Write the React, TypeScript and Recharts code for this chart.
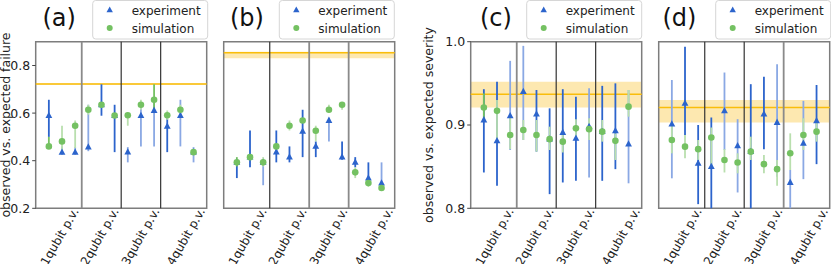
import React from 'react';
import {
    ScatterChart,
    Scatter,
    XAxis,
    YAxis,
    ErrorBar,
    ReferenceLine,
    ReferenceArea
} from 'recharts';

// x index of each of the 12 configurations, 3 per group
const POSITIONS = [0, 1, 2, 3, 4, 5, 6, 7, 8, 9, 10, 11];
const GROUPS = ['1qubit p.v.', '2qubit p.v.', '3qubit p.v.', '4qubit p.v.'];
const GROUP_TICKS = [2.3, 5.35, 8.45, 11.9];
const SEPARATORS = [2.5, 5.5, 8.5];

// (a) failure
const EXP_A = [0.589, 0.435, 0.435, 0.457, 0.635, 0.589, 0.436, 0.589, 0.611, 0.544, 0.589, 0.436];
const EXP_A_LO = [0.50, 0.425, 0.425, 0.44, 0.589, 0.436, 0.393, 0.46, 0.46, 0.436, 0.46, 0.393];
const EXP_A_HI = [0.656, 0.46, 0.457, 0.635, 0.721, 0.635, 0.457, 0.635, 0.656, 0.593, 0.656, 0.457];
const EXP_A_FAINT = [0, 1, 1, 1, 0, 0, 1, 1, 1, 0, 1, 1];
const SIM_A = [0.46, 0.481, 0.547, 0.614, 0.635, 0.59, 0.591, 0.635, 0.656, 0.591, 0.614, 0.436];
const SIM_A_LO = [0.455, 0.432, 0.453, 0.593, 0.625, 0.58, 0.547, 0.614, 0.607, 0.572, 0.59, 0.425];
const SIM_A_HI = [0.50, 0.547, 0.569, 0.635, 0.645, 0.60, 0.597, 0.656, 0.721, 0.611, 0.635, 0.447];
const SIM_A_FAINT = [0, 1, 1, 1, 1, 1, 1, 1, 0, 1, 1, 1];

// (b) failure
const EXP_B = [0.393, 0.415, 0.393, 0.436, 0.415, 0.523, 0.46, 0.569, 0.415, 0.393, 0.327, 0.306];
const EXP_B_LO = [0.327, 0.372, 0.297, 0.393, 0.393, 0.415, 0.415, 0.481, 0.404, 0.372, 0.32, 0.297];
const EXP_B_HI = [0.40, 0.527, 0.40, 0.527, 0.46, 0.614, 0.481, 0.58, 0.481, 0.415, 0.393, 0.393];
const EXP_B_FAINT = [0, 0, 1, 0, 0, 0, 0, 1, 0, 0, 0, 1];
const SIM_B = [0.393, 0.415, 0.393, 0.46, 0.547, 0.569, 0.526, 0.614, 0.635, 0.351, 0.306, 0.285];
const SIM_B_LO = [0.376, 0.405, 0.376, 0.446, 0.527, 0.559, 0.481, 0.6, 0.614, 0.327, 0.29, 0.28];
const SIM_B_HI = [0.415, 0.425, 0.415, 0.471, 0.569, 0.579, 0.547, 0.635, 0.645, 0.372, 0.32, 0.29];
const SIM_B_FAINT = [0, 1, 1, 1, 1, 1, 1, 1, 1, 1, 1, 1];

// (c) severity
const EXP_C = [0.906, 0.881, 0.911, 0.94, 0.913, 0.883, 0.891, 0.884, 0.898, 0.892, 0.893, 0.877];
const EXP_C_LO = [0.843, 0.827, 0.87, 0.882, 0.868, 0.817, 0.831, 0.833, 0.837, 0.833, 0.847, 0.83];
const EXP_C_HI = [0.943, 0.952, 0.977, 0.995, 0.942, 0.92, 0.943, 0.934, 0.944, 0.947, 0.95, 0.942];
const EXP_C_FAINT = [0, 0, 1, 1, 0, 0, 0, 0, 1, 0, 0, 1];
const SIM_C = [0.921, 0.917, 0.888, 0.894, 0.888, 0.883, 0.88, 0.896, 0.895, 0.892, 0.881, 0.922];
const SIM_C_LO = [0.906, 0.882, 0.871, 0.882, 0.868, 0.87, 0.867, 0.882, 0.882, 0.88, 0.858, 0.91];
const SIM_C_HI = [0.938, 0.93, 0.91, 0.906, 0.906, 0.898, 0.892, 0.907, 0.908, 0.906, 0.89, 0.942];
const SIM_C_FAINT = [0, 1, 1, 1, 1, 1, 1, 1, 1, 1, 1, 1];

// (d) severity
const EXP_D = [0.901, 0.926, 0.854, 0.85, 0.917, 0.875, 0.868, 0.913, 0.903, 0.831, 0.878, 0.905];
const EXP_D_LO = [0.836, 0.888, 0.805, 0.8, 0.87, 0.819, 0.8, 0.871, 0.838, 0.8, 0.835, 0.853];
const EXP_D_HI = [0.954, 0.994, 0.9, 0.909, 0.963, 0.907, 0.949, 0.958, 0.973, 0.846, 0.929, 0.948];
const EXP_D_FAINT = [1, 0, 0, 0, 1, 1, 0, 0, 1, 1, 1, 0];
const SIM_D = [0.882, 0.874, 0.871, 0.885, 0.858, 0.855, 0.868, 0.853, 0.847, 0.866, 0.888, 0.892];
const SIM_D_LO = [0.866, 0.86, 0.858, 0.85, 0.843, 0.842, 0.858, 0.842, 0.827, 0.846, 0.87, 0.88];
const SIM_D_HI = [0.9, 0.888, 0.882, 0.897, 0.871, 0.866, 0.886, 0.864, 0.858, 0.89, 0.908, 0.906];
const SIM_D_FAINT = [1, 1, 1, 1, 1, 1, 1, 1, 1, 1, 1, 1];

// expected value (line) and its band
const EXPECTED = [0.722, 0.854, 0.937, 0.921];
const EXPECTED_LO = [0.719, 0.83, 0.921, 0.903];
const EXPECTED_HI = [0.725, 0.858, 0.952, 0.930];

const BLUE = '#2c64cc';
const BLUE_FAINT = '#8aa8e4';
const GREEN = '#74c162';
const GREEN_FAINT = '#b9dfae';
const GOLD = '#f9bd0b';
const GOLD_BAND = '#fde8b0';
const FONT = '"DejaVu Sans", sans-serif';

const rows = (vals: number[], lo: number[], hi: number[], faint: number[], wantFaint: boolean) =>
    POSITIONS.map((x, i) => ({
        x,
        y: vals[i],
        err: [Math.max(0, vals[i] - lo[i]), Math.max(0, hi[i] - vals[i])],
        faint: !!faint[i]
    })).filter(r => r.faint === wantFaint);

const Triangle = (p: any) => {
    if (p.cx == null || p.cy == null) return null;
    const { cx, cy } = p;
    return <polygon points={`${cx},${cy - 3.9} ${cx - 3.4},${cy + 2.4} ${cx + 3.4},${cy + 2.4}`} fill={BLUE} />;
};

const Dot = (p: any) => {
    if (p.cx == null || p.cy == null) return null;
    return <circle cx={p.cx} cy={p.cy} r={3.3} fill={GREEN} />;
};

// tickSize 6 + tickMargin 2 below the axis; pull the label end back up near the frame
const GroupTick = (props: any) => {
    const { x, payload } = props;
    const y = props.y - 5.3;
    const idx = GROUP_TICKS.indexOf(payload.value);
    return (
        <text x={x} y={y} transform={`rotate(-60, ${x}, ${y})`} textAnchor="end"
            fontSize={12} fill="#222" fontFamily={FONT}>
            {GROUPS[idx]}
        </text>
    );
};

interface PanelProps {
    exp: number[]; expLo: number[]; expHi: number[]; expFaint: number[];
    sim: number[]; simLo: number[]; simHi: number[]; simFaint: number[];
    line: number; bandLo: number; bandHi: number;
    domain: [number, number];
    yTicks?: number[];
    left: number; right: number; axisWidth: number;
    sepColors: string[];
}

const W = 831;
const H = 264;
const TOP = 41.7;
const BOTTOM = 208.3;

const Panel: React.FC<PanelProps> = (p) => {
    const showY = !!p.yTicks;
    return (
        <div style={{ position: 'absolute', left: 0, top: 0 }}>
            <ScatterChart
                width={W}
                height={H}
                margin={{ top: TOP, bottom: 0, left: p.left - (showY ? p.axisWidth : 0), right: W - p.right }}
            >
                <XAxis type="number" dataKey="x" domain={[-1, 12]} ticks={GROUP_TICKS}
                    allowDataOverflow axisLine={false} tickLine={false} tickSize={6} tickMargin={2}
                    height={H - BOTTOM} interval={0} tick={<GroupTick />} />
                {showY ? (
                    <YAxis type="number" dataKey="y" domain={p.domain} ticks={p.yTicks} allowDataOverflow
                        width={p.axisWidth} axisLine={false} tickSize={3.5} tickMargin={2}
                        tickLine={{ stroke: '#444' }}
                        tick={{ fontSize: 12.5, fill: '#222', fontFamily: FONT }}
                        tickFormatter={(v: number) => v.toFixed(1)} />
                ) : (
                    <YAxis type="number" dataKey="y" domain={p.domain} allowDataOverflow hide width={0} />
                )}
                <ReferenceArea y1={p.bandLo} y2={p.bandHi} fill={GOLD_BAND} fillOpacity={1} stroke="none" />
                <ReferenceLine y={p.line} stroke={GOLD} strokeWidth={1.5} />
                {SEPARATORS.map((s, i) => (
                    <ReferenceLine key={s} x={s} stroke={p.sepColors[i]}
                        strokeWidth={p.sepColors[i] === '#333' ? 1.2 : 1.8} />
                ))}
                <ReferenceArea x1={-1} x2={12} y1={p.domain[0]} y2={p.domain[1]}
                    fill="none" stroke="#7d7d7d" strokeWidth={1.5} />
                <Scatter data={rows(p.exp, p.expLo, p.expHi, p.expFaint, false)} shape={Triangle} isAnimationActive={false}>
                    <ErrorBar dataKey="err" direction="y" width={0} stroke={BLUE} strokeWidth={1.8} />
                </Scatter>
                <Scatter data={rows(p.exp, p.expLo, p.expHi, p.expFaint, true)} shape={Triangle} isAnimationActive={false}>
                    <ErrorBar dataKey="err" direction="y" width={0} stroke={BLUE_FAINT} strokeWidth={1.8} />
                </Scatter>
                <Scatter data={rows(p.sim, p.simLo, p.simHi, p.simFaint, false)} shape={Dot} isAnimationActive={false}>
                    <ErrorBar dataKey="err" direction="y" width={0} stroke={GREEN} strokeWidth={1.8} />
                </Scatter>
                <Scatter data={rows(p.sim, p.simLo, p.simHi, p.simFaint, true)} shape={Dot} isAnimationActive={false}>
                    <ErrorBar dataKey="err" direction="y" width={0} stroke={GREEN_FAINT} strokeWidth={1.8} />
                </Scatter>
            </ScatterChart>
        </div>
    );
};

const LegendBox: React.FC<{ x: number }> = ({ x }) => (
    <g>
        <rect x={x} y={0.5} width={115} height={38.5} rx={3} fill="#fff" fillOpacity={0.8} stroke="#d6d6d6" />
        <polygon points={`${x + 17},${6.5} ${x + 13.8},${12.3} ${x + 20.2},${12.3}`} fill={BLUE} />
        <text x={x + 39} y={14.5} fontSize={12} fill="#222">experiment</text>
        <circle cx={x + 17} cy={28} r={3} fill={GREEN} />
        <text x={x + 39} y={32.5} fontSize={12} fill="#222">simulation</text>
    </g>
);

export default function App() {
    const panels: PanelProps[] = [
        {
            exp: EXP_A, expLo: EXP_A_LO, expHi: EXP_A_HI, expFaint: EXP_A_FAINT,
            sim: SIM_A, simLo: SIM_A_LO, simHi: SIM_A_HI, simFaint: SIM_A_FAINT,
            line: EXPECTED[0], bandLo: EXPECTED_LO[0], bandHi: EXPECTED_HI[0],
            domain: [0.2, 0.9], yTicks: [0.2, 0.4, 0.6, 0.8],
            left: 35.7, right: 206.7, axisWidth: 35.7,
            sepColors: ['#8a8a8a', '#333', '#333']
        },
        {
            exp: EXP_B, expLo: EXP_B_LO, expHi: EXP_B_HI, expFaint: EXP_B_FAINT,
            sim: SIM_B, simLo: SIM_B_LO, simHi: SIM_B_HI, simFaint: SIM_B_FAINT,
            line: EXPECTED[1], bandLo: EXPECTED_LO[1], bandHi: EXPECTED_HI[1],
            domain: [0.2, 0.9],
            left: 223.7, right: 394.7, axisWidth: 0,
            sepColors: ['#333', '#8a8a8a', '#8a8a8a']
        },
        {
            exp: EXP_C, expLo: EXP_C_LO, expHi: EXP_C_HI, expFaint: EXP_C_FAINT,
            sim: SIM_C, simLo: SIM_C_LO, simHi: SIM_C_HI, simFaint: SIM_C_FAINT,
            line: EXPECTED[2], bandLo: EXPECTED_LO[2], bandHi: EXPECTED_HI[2],
            domain: [0.8, 1.0], yTicks: [0.8, 0.9, 1.0],
            left: 470.7, right: 641.7, axisWidth: 40,
            sepColors: ['#8a8a8a', '#333', '#333']
        },
        {
            exp: EXP_D, expLo: EXP_D_LO, expHi: EXP_D_HI, expFaint: EXP_D_FAINT,
            sim: SIM_D, simLo: SIM_D_LO, simHi: SIM_D_HI, simFaint: SIM_D_FAINT,
            line: EXPECTED[3], bandLo: EXPECTED_LO[3], bandHi: EXPECTED_HI[3],
            domain: [0.8, 1.0],
            left: 658.7, right: 829.7, axisWidth: 0,
            sepColors: ['#333', '#333', '#8a8a8a']
        }
    ];

    return (
        <div style={{ position: 'fixed', left: 0, top: 0, width: W, height: H, background: '#fff', fontFamily: FONT, overflow: 'hidden' }}>
            {panels.map((p, i) => <Panel key={i} {...p} />)}
            <svg width={W} height={H} style={{ position: 'absolute', left: 0, top: 0 }} fontFamily={FONT}>
                <text x={42.5} y={26} fontSize={24} fill="#111">(a)</text>
                <text x={230} y={26} fontSize={24} fill="#111">(b)</text>
                <text x={480} y={26} fontSize={24} fill="#111">(c)</text>
                <text x={662.5} y={26} fontSize={24} fill="#111">(d)</text>
                <text x={10} y={125} transform="rotate(-90, 10, 125)" textAnchor="middle" fontSize={12.5} fill="#222">
                    observed vs. expected failure
                </text>
                <text x={433} y={125} transform="rotate(-90, 433, 125)" textAnchor="middle" fontSize={12.5} fill="#222">
                    observed vs. expected severity
                </text>
                <LegendBox x={92.7} />
                <LegendBox x={279.3} />
                <LegendBox x={526.7} />
                <LegendBox x={715.7} />
            </svg>
        </div>
    );
}
